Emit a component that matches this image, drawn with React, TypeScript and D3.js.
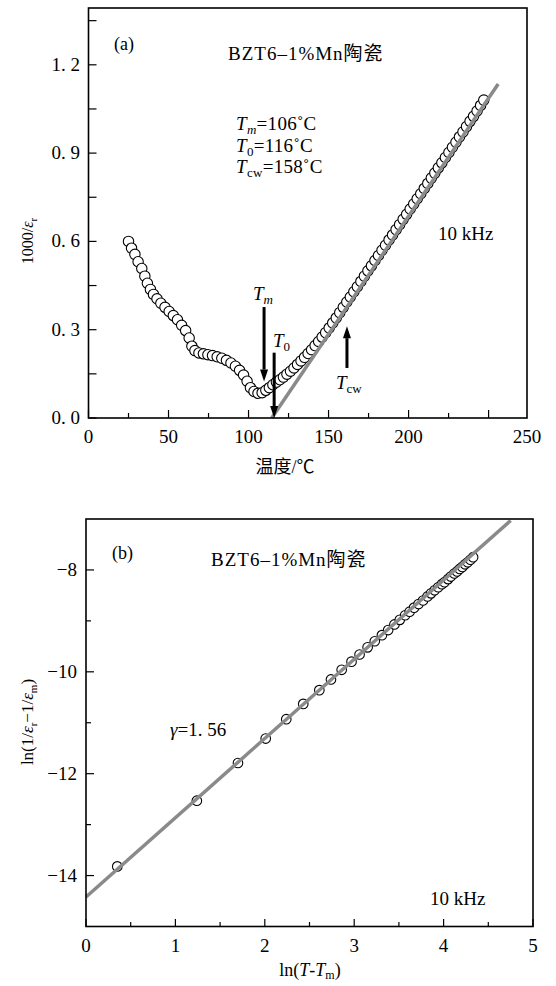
import React from 'react';
import * as d3 from 'd3';

// ---------- Panel (a) data ----------
const tempA = [
  25.0, 26.9, 29.0, 31.0, 33.3, 35.2, 36.8, 38.7, 40.6, 42.8, 45.2, 47.8, 50.4, 53.0, 55.6, 58.2,
  60.7, 62.9, 64.6, 66.5, 69.0, 71.8, 74.6, 77.5, 80.4, 83.3, 86.2, 89.0, 91.8, 94.4, 96.9, 99.1,
  101.2, 103.4, 105.9, 108.5, 110.8, 113.0, 115.2, 117.4, 119.6, 121.8, 124.0, 126.2, 128.4, 130.6,
  132.8, 135.0, 137.2, 139.4, 141.6, 143.8, 146.0, 148.2, 150.4, 152.6, 154.8, 157.0, 159.2, 161.4,
  163.6, 165.8, 168.0, 170.2, 172.4, 174.6, 176.8, 179.0, 181.2, 183.4, 185.6, 187.8, 190.0, 192.2,
  194.4, 196.6, 198.8, 201.0, 203.2, 205.4, 207.6, 209.8, 212.0, 214.2, 216.4, 218.6, 220.8, 223.0,
  225.2, 227.4, 229.6, 231.8, 234.0, 236.2, 238.4, 240.6, 242.8, 245.0, 247.0,
];
const invEpsA = [
  0.600, 0.577, 0.556, 0.531, 0.508, 0.482, 0.458, 0.437, 0.420, 0.405, 0.390, 0.376, 0.362, 0.348, 0.334, 0.315,
  0.297, 0.272, 0.244, 0.229, 0.221, 0.218, 0.215, 0.212, 0.208, 0.203, 0.196, 0.187, 0.176, 0.162, 0.146, 0.125,
  0.103, 0.090, 0.084, 0.086, 0.094, 0.103, 0.113, 0.122, 0.130, 0.139, 0.149, 0.159, 0.170, 0.182,
  0.194, 0.206, 0.219, 0.232, 0.246, 0.260, 0.275, 0.290, 0.306, 0.323, 0.340, 0.358, 0.376, 0.394,
  0.411, 0.429, 0.446, 0.464, 0.482, 0.500, 0.517, 0.535, 0.552, 0.570, 0.587, 0.605, 0.622, 0.640,
  0.657, 0.675, 0.692, 0.710, 0.727, 0.745, 0.762, 0.780, 0.797, 0.815, 0.832, 0.850, 0.867, 0.885,
  0.902, 0.920, 0.937, 0.955, 0.972, 0.990, 1.008, 1.025, 1.043, 1.062, 1.080,
];
const cwLineT = [114.5, 256];
const cwLineV = [0, 1.135];
const xMajorA = [0, 50, 100, 150, 200, 250];
const xMinorA = [25, 75, 125, 175, 225];
const xLabelsA = ['0', '50', '100', '150', '200', '250'];
const yMajorA = [0, 0.3, 0.6, 0.9, 1.2];
const yMinorA = [0.15, 0.45, 0.75, 1.05, 1.35];
const yLabelsA = ['0. 0', '0. 3', '0. 6', '0. 9', '1. 2'];
// arrows: [x, from, to]
const arrowTm = [109.7, 0.377, 0.124];
const arrowT0 = [116, 0.222, 0.0];
const arrowTcw = [161.5, 0.170, 0.312];

// ---------- Panel (b) data ----------
const lnDT = [
  0.35, 1.24, 1.70, 2.01, 2.24, 2.43, 2.61, 2.74, 2.86, 2.97, 3.06, 3.15, 3.23, 3.31, 3.38, 3.45,
  3.51, 3.57, 3.62, 3.67, 3.72, 3.77, 3.82, 3.86, 3.90, 3.94, 3.98, 4.01, 4.05, 4.08, 4.12, 4.15,
  4.18, 4.21, 4.24, 4.27, 4.30, 4.33,
];
const lnInv = [
  -13.82, -12.53, -11.79, -11.31, -10.93, -10.63, -10.36, -10.15, -9.96, -9.80, -9.66, -9.52, -9.40, -9.28, -9.18, -9.07,
  -8.98, -8.89, -8.82, -8.74, -8.67, -8.60, -8.52, -8.46, -8.40, -8.34, -8.28, -8.24, -8.18, -8.13, -8.07, -8.03,
  -7.98, -7.94, -7.89, -7.85, -7.80, -7.75,
];
const fitX = [0, 4.75];
const fitY = [-14.42, -7.03];
const xMajorB = [0, 1, 2, 3, 4, 5];
const xMinorB = [0.5, 1.5, 2.5, 3.5, 4.5];
const yMajorB = [-14, -12, -10, -8];
const yMinorB = [-13, -11, -9];
const yLabelsB = ['\u221214', '\u221212', '\u221210', '\u22128'];

const SERIF = '"Liberation Serif", "Times New Roman", "Noto Sans CJK SC", serif';
const GRAY = '#8a8a8a';

const xA = d3.scaleLinear().domain([0, 274]).range([88.5, 527]);
const yA = d3.scaleLinear().domain([0, 1.393]).range([418, 8]);
const xB = d3.scaleLinear().domain([0, 5]).range([86, 533]);
const yB = d3.scaleLinear().domain([-15, -7]).range([926.5, 519]);

function Arrow({ x, y1, y2 }: { x: number; y1: number; y2: number }) {
  const dir = y2 > y1 ? 1 : -1;
  const head = 12;
  return (
    <g>
      <line x1={x} x2={x} y1={y1} y2={y2 - dir * head} stroke="#000" strokeWidth={3} />
      <path d={`M${x - 4},${y2 - dir * head} L${x + 4},${y2 - dir * head} L${x},${y2} Z`} fill="#000" />
    </g>
  );
}

export default function App() {
  const lineA = d3.line<number>().x((_, i) => xA(cwLineT[i])).y((d) => yA(d));
  const lineB = d3.line<number>().x((_, i) => xB(fitX[i])).y((d) => yB(d));
  const fs = 19;
  return (
    <svg width={556} height={986} style={{ position: 'absolute', left: 0, top: 0, background: '#fff' }}
      fontFamily={SERIF}>
      <rect x={0} y={0} width={556} height={986} fill="#fff" />
      {/* ================= Panel A ================= */}
      <g>
        {tempA.map((t, i) => (
          <circle key={i} cx={xA(t)} cy={yA(invEpsA[i])} r={5.2} fill="#fff" stroke="#000" strokeWidth={1.1} />
        ))}
        <path d={lineA(cwLineV) || ''} stroke={GRAY} strokeWidth={3.5} fill="none" />
        {xMajorA.map((v) => (
          <line key={'xm' + v} x1={xA(v)} x2={xA(v)} y1={418} y2={410} stroke="#000" strokeWidth={1.2} />
        ))}
        {xMinorA.map((v) => (
          <line key={'xn' + v} x1={xA(v)} x2={xA(v)} y1={418} y2={413} stroke="#000" strokeWidth={1.2} />
        ))}
        {yMajorA.map((v) => (
          <line key={'ym' + v} x1={88.5} x2={96.5} y1={yA(v)} y2={yA(v)} stroke="#000" strokeWidth={1.2} />
        ))}
        {yMinorA.map((v) => (
          <line key={'yn' + v} x1={88.5} x2={96.5} y1={yA(v)} y2={yA(v)} stroke="#000" strokeWidth={1.2} />
        ))}
        <rect x={88.5} y={8} width={527 - 88.5} height={410} fill="none" stroke="#000" strokeWidth={1.6} />
        {xMajorA.map((v, i) => (
          <text key={'xl' + v} x={i === xMajorA.length - 1 ? xA.range()[1] : xA(v)} y={443} fontSize={fs}
            textAnchor="middle">{xLabelsA[i]}</text>
        ))}
        {yMajorA.map((v, i) => (
          <text key={'yl' + v} x={80} y={yA(v) + 6} fontSize={fs} textAnchor="end">{yLabelsA[i]}</text>
        ))}
        <text x={285} y={473} fontSize={18} textAnchor="middle">温度/℃</text>
        <text transform="translate(33,241) rotate(-90)" fontSize={16} textAnchor="middle">
          1000/<tspan fontStyle="italic">ε</tspan><tspan fontSize={11} dy={4}>r</tspan>
        </text>
        <text x={114} y={50} fontSize={18}>(a)</text>
        <text x={228} y={60} fontSize={19} letterSpacing={1}>BZT6–1%Mn陶瓷</text>
        <text x={236} y={130} fontSize={19} letterSpacing={0.3}>
          <tspan fontStyle="italic">T</tspan><tspan fontStyle="italic" fontSize={13} dy={4}>m</tspan>
          <tspan dy={-4}>=106˚C</tspan>
        </text>
        <text x={236} y={152} fontSize={19} letterSpacing={0.3}>
          <tspan fontStyle="italic">T</tspan><tspan fontSize={13} dy={4}>0</tspan>
          <tspan dy={-4}>=116˚C</tspan>
        </text>
        <text x={236} y={173} fontSize={19} letterSpacing={0.3}>
          <tspan fontStyle="italic">T</tspan><tspan fontSize={13} dy={4}>cw</tspan>
          <tspan dy={-4}>=158˚C</tspan>
        </text>
        <text x={438} y={240} fontSize={19}>10 kHz</text>
        <Arrow x={xA(arrowTm[0])} y1={yA(arrowTm[1])} y2={yA(arrowTm[2])} />
        <Arrow x={xA(arrowT0[0])} y1={yA(arrowT0[1])} y2={yA(arrowT0[2])} />
        <Arrow x={xA(arrowTcw[0])} y1={yA(arrowTcw[1])} y2={yA(arrowTcw[2])} />
        <text x={253} y={300} fontSize={19}>
          <tspan fontStyle="italic">T</tspan><tspan fontStyle="italic" fontSize={13} dy={4}>m</tspan>
        </text>
        <text x={273} y={347} fontSize={19}>
          <tspan fontStyle="italic">T</tspan><tspan fontSize={13} dy={4}>0</tspan>
        </text>
        <text x={336} y={389} fontSize={19}>
          <tspan fontStyle="italic">T</tspan><tspan fontSize={13} dy={4}>cw</tspan>
        </text>
      </g>

      {/* ================= Panel B ================= */}
      <g>
        {lnDT.map((x, i) => (
          <circle key={i} cx={xB(x)} cy={yB(lnInv[i])} r={4.8} fill="#fff" stroke="#000" strokeWidth={1.1} />
        ))}
        <path d={lineB(fitY) || ''} stroke={GRAY} strokeWidth={3.5} fill="none" />
        {xMajorB.map((v) => (
          <line key={'bxm' + v} x1={xB(v)} x2={xB(v)} y1={926.5} y2={919} stroke="#000" strokeWidth={1.2} />
        ))}
        {xMinorB.map((v) => (
          <line key={'bxn' + v} x1={xB(v)} x2={xB(v)} y1={926.5} y2={922} stroke="#000" strokeWidth={1.2} />
        ))}
        {yMajorB.map((v) => (
          <line key={'bym' + v} x1={86} x2={94} y1={yB(v)} y2={yB(v)} stroke="#000" strokeWidth={1.2} />
        ))}
        {yMinorB.map((v) => (
          <line key={'byn' + v} x1={86} x2={91} y1={yB(v)} y2={yB(v)} stroke="#000" strokeWidth={1.2} />
        ))}
        <rect x={86} y={519} width={533 - 86} height={926.5 - 519} fill="none" stroke="#000" strokeWidth={1.6} />
        {xMajorB.map((v) => (
          <text key={'bxl' + v} x={xB(v)} y={952} fontSize={fs} textAnchor="middle">{String(v)}</text>
        ))}
        {yMajorB.map((v, i) => (
          <text key={'byl' + v} x={77} y={yB(v) + 6} fontSize={fs} textAnchor="end">{yLabelsB[i]}</text>
        ))}
        <text x={310} y={976} fontSize={18} textAnchor="middle">
          ln(<tspan fontStyle="italic">T</tspan>-<tspan fontStyle="italic">T</tspan><tspan fontSize={12} dy={3}>m</tspan><tspan dy={-3}>)</tspan>
        </text>
        <text transform="translate(33,722) rotate(-90)" fontSize={17} textAnchor="middle">
          ln(1/<tspan fontStyle="italic">ε</tspan><tspan fontSize={11} dy={4}>r</tspan><tspan dy={-4}>−1/</tspan><tspan fontStyle="italic">ε</tspan><tspan fontSize={11} dy={4}>m</tspan><tspan dy={-4}>)</tspan>
        </text>
        <text x={112} y={559} fontSize={18}>(b)</text>
        <text x={211} y={566} fontSize={19} letterSpacing={1}>BZT6–1%Mn陶瓷</text>
        <text x={170} y={736} fontSize={19}>
          <tspan fontStyle="italic">γ</tspan>=1. 56
        </text>
        <text x={430} y={905} fontSize={19}>10 kHz</text>
      </g>
    </svg>
  );
}
